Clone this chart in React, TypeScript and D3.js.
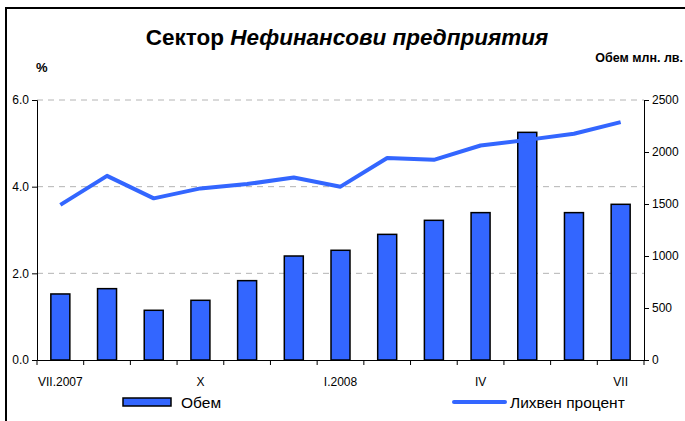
import React, { useEffect, useRef } from 'react';
import * as d3 from 'd3';

// месеци VII.2007 - VII.2008
const months = ['VII.2007', 'VIII', 'IX', 'X', 'XI', 'XII', 'I.2008', 'II', 'III', 'IV', 'V', 'VI', 'VII'];
const shownLabels = ['VII.2007', 'X', 'I.2008', 'IV', 'VII'];
// обем, млн. лв. (дясна ос)
const volume = [635, 686, 478, 574, 763, 1000, 1055, 1208, 1343, 1417, 2189, 1417, 1497];
// лихвен процент, % (лява ос)
const rate = [3.58, 4.25, 3.73, 3.96, 4.06, 4.21, 4.0, 4.66, 4.62, 4.95, 5.08, 5.22, 5.49];
const leftTicks = [0, 2, 4, 6];
const rightTicks = [0, 500, 1000, 1500, 2000, 2500];

const BLUE = '#3366ff';
const FONT = '"Liberation Sans", Arial, sans-serif';

export default function App() {
  const ref = useRef<SVGSVGElement>(null);

  useEffect(() => {
    const svg = d3.select(ref.current);
    svg.selectAll('*').remove();

    const left = 37, right = 644, top = 100, bottom = 360;

    const x = d3.scaleBand().domain(months).range([left, right]).paddingInner(0).paddingOuter(0);
    const yL = d3.scaleLinear().domain([0, 6]).range([bottom, top]);
    const yR = d3.scaleLinear().domain([0, 2500]).range([bottom, top]);

    // рамка
    svg.append('path')
      .attr('d', 'M6,421 L6,8 L685,8')
      .attr('fill', 'none').attr('stroke', '#000').attr('stroke-width', 2);

    // заглавие
    const title = svg.append('text')
      .attr('x', 347).attr('y', 45)
      .attr('text-anchor', 'middle')
      .attr('font-family', FONT).attr('font-size', 22.5).attr('font-weight', 'bold');
    title.append('tspan').text('Сектор ');
    title.append('tspan').attr('font-style', 'italic').text('Нефинансови предприятия');

    svg.append('text').attr('x', 36).attr('y', 72)
      .attr('font-family', FONT).attr('font-size', 13).attr('font-weight', 'bold').text('%');
    svg.append('text').attr('x', 683).attr('y', 62).attr('text-anchor', 'end')
      .attr('font-family', FONT).attr('font-size', 12.5).attr('font-weight', 'bold').text('Обем млн. лв.');

    // мрежа
    svg.append('g').selectAll('line')
      .data(leftTicks.filter(d => d > 0))
      .join('line')
      .attr('x1', left).attr('x2', right)
      .attr('y1', d => yL(d)).attr('y2', d => yL(d))
      .attr('stroke', '#b4b4b4').attr('stroke-dasharray', '6,5').attr('stroke-width', 1);

    // колони
    const bw = 19;
    svg.append('g').selectAll('rect')
      .data(volume)
      .join('rect')
      .attr('x', (d, i) => x(months[i])! + x.bandwidth() / 2 - bw / 2)
      .attr('y', d => yR(d))
      .attr('width', bw)
      .attr('height', d => bottom - yR(d))
      .attr('fill', BLUE).attr('stroke', '#000').attr('stroke-width', 1.5);

    // линия
    const line = d3.line<number>()
      .x((d, i) => x(months[i])! + x.bandwidth() / 2)
      .y(d => yL(d));
    svg.append('path').datum(rate)
      .attr('d', line)
      .attr('fill', 'none').attr('stroke', BLUE).attr('stroke-width', 4)
      .attr('stroke-linejoin', 'round');

    // оси
    const axL = svg.append('g').attr('transform', `translate(${left},0)`)
      .call(d3.axisLeft(yL).tickValues(leftTicks).tickFormat(d3.format('.1f')).tickSizeOuter(0).tickSize(5).tickPadding(3));
    const axR = svg.append('g').attr('transform', `translate(${right},0)`)
      .call(d3.axisRight(yR).tickValues(rightTicks).tickFormat(d3.format('d')).tickSizeOuter(0).tickSize(5).tickPadding(3));
    const axB = svg.append('g').attr('transform', `translate(0,${bottom})`)
      .call(d3.axisBottom(x).tickValues([]).tickSizeOuter(0));
    axB.selectAll('g.tb').data(d3.range(months.length + 1)).join('line')
      .attr('x1', i => left + i * x.bandwidth()).attr('x2', i => left + i * x.bandwidth())
      .attr('y1', 0).attr('y2', 5).attr('stroke', '#000');
    axB.selectAll('text.lbl').data(months.filter(m => shownLabels.includes(m))).join('text')
      .attr('class', 'lbl')
      .attr('x', d => x(d)! + x.bandwidth() / 2).attr('y', 26)
      .attr('text-anchor', 'middle').attr('fill', '#000')
      .attr('font-family', FONT).attr('font-size', 12).text(d => d);

    [axL, axR, axB].forEach(a => {
      a.select('.domain').attr('stroke', '#000').attr('stroke-width', 1);
      a.selectAll('.tick line').attr('stroke', '#000');
      a.selectAll('.tick text').attr('font-family', FONT).attr('font-size', 12).attr('fill', '#000');
    });

    // легенда
    svg.append('rect').attr('x', 123).attr('y', 398).attr('width', 48).attr('height', 8)
      .attr('fill', BLUE).attr('stroke', '#000').attr('stroke-width', 1.5);
    svg.append('text').attr('x', 181).attr('y', 408)
      .attr('font-family', FONT).attr('font-size', 15.5).text('Обем');
    svg.append('line').attr('x1', 454).attr('x2', 505).attr('y1', 402).attr('y2', 402)
      .attr('stroke', BLUE).attr('stroke-width', 4).attr('stroke-linecap', 'round');
    svg.append('text').attr('x', 510).attr('y', 408)
      .attr('font-family', FONT).attr('font-size', 15.5).text('Лихвен процент');
  }, []);

  return (
    <svg ref={ref} width={685} height={421}
      style={{ position: 'absolute', left: 0, top: 0, background: '#fff' }} />
  );
}
